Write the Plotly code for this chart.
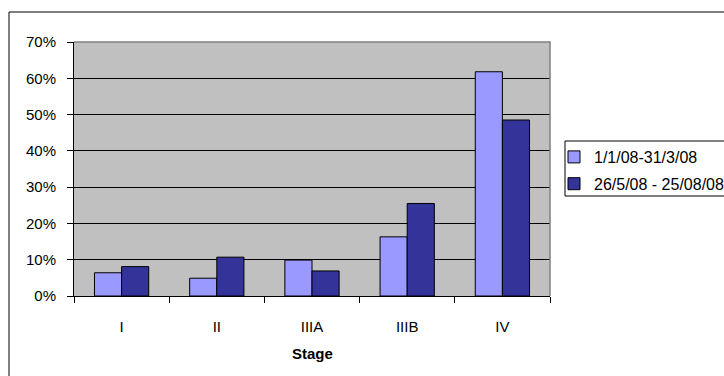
import plotly.graph_objects as go

# Stage distribution for two periods
stages = ["I", "II", "IIIA", "IIIB", "IV"]
period_1_label = "1/1/08-31/3/08"
period_2_label = "26/5/08 - 25/08/08"
period_1 = [0.064, 0.049, 0.099, 0.163, 0.618]
period_2 = [0.081, 0.107, 0.069, 0.255, 0.485]
y_ticks = [0, 0.1, 0.2, 0.3, 0.4, 0.5, 0.6, 0.7]

FONT = "Liberation Sans, Arial, sans-serif"

# page geometry (pixels)
W, H = 724, 376
L, R, T, B = 74, 174, 42, 80
pw, ph = W - L - R, H - T - B


def px_x(x):
    return (x - L) / pw


def px_y(y):
    return (H - B - y) / ph


fig = go.Figure()
fig.add_trace(go.Bar(
    x=stages, y=period_1, name=period_1_label, legendgroup="a",
    marker=dict(color="#9999FF", line=dict(color="#000000", width=1)),
))
fig.add_trace(go.Bar(
    x=stages, y=period_2, name=period_2_label, legendgroup="b",
    marker=dict(color="#333399", line=dict(color="#000000", width=1)),
))

fig.update_layout(
    width=W, height=H,
    margin=dict(l=L, r=R, t=T, b=B, pad=0, autoexpand=False),
    paper_bgcolor="#FFFFFF",
    plot_bgcolor="#C0C0C0",
    font=dict(family=FONT, size=15, color="#000000"),
    barmode="group",
    bargap=0.43,
    bargroupgap=0,
    showlegend=True,
    legend=dict(
        x=px_x(554), y=px_y(140), xanchor="left", yanchor="top",
        bgcolor="rgba(0,0,0,0)", borderwidth=0,
        traceorder="grouped", tracegroupgap=3,
        font=dict(family=FONT, size=16),
        itemclick=False,
    ),
    xaxis=dict(
        showline=True, linecolor="#000000", linewidth=1,
        ticks="outside", tickson="boundaries", ticklen=6, tickcolor="#000000",
        ticklabelstandoff=17,
        showgrid=False, fixedrange=True,
    ),
    yaxis=dict(
        range=[0, 0.7], tickvals=y_ticks, tickformat=".0%",
        showline=True, linecolor="#000000", linewidth=1,
        ticks="outside", ticklen=6, tickcolor="#000000",
        ticklabelstandoff=8,
        showgrid=True, gridcolor="#000000", gridwidth=1,
        zeroline=False, fixedrange=True,
    ),
    shapes=[
        # outer chart frame
        dict(type="rect", xref="paper", yref="paper",
             x0=px_x(9), x1=px_x(W + 20), y0=px_y(H + 20), y1=px_y(12),
             line=dict(color="#000000", width=1), fillcolor="rgba(0,0,0,0)",
             layer="below"),
        # plot area frame (top and right)
        dict(type="path", xref="paper", yref="paper",
             path="M 0 1 L 1 1 L 1 0",
             line=dict(color="#808080", width=1.5), layer="above"),
        # legend box
        dict(type="rect", xref="paper", yref="paper",
             x0=px_x(565), x1=px_x(W + 20), y0=px_y(196), y1=px_y(141),
             line=dict(color="#000000", width=1), fillcolor="#FFFFFF",
             layer="below"),
    ],
    annotations=[
        dict(text="<b>Stage</b>", xref="paper", yref="paper",
             x=px_x(312), y=px_y(353), xanchor="center", yanchor="middle",
             showarrow=False, font=dict(family=FONT, size=15)),
    ],
)

fig.write_html("out.html", config={"displayModeBar": False})
